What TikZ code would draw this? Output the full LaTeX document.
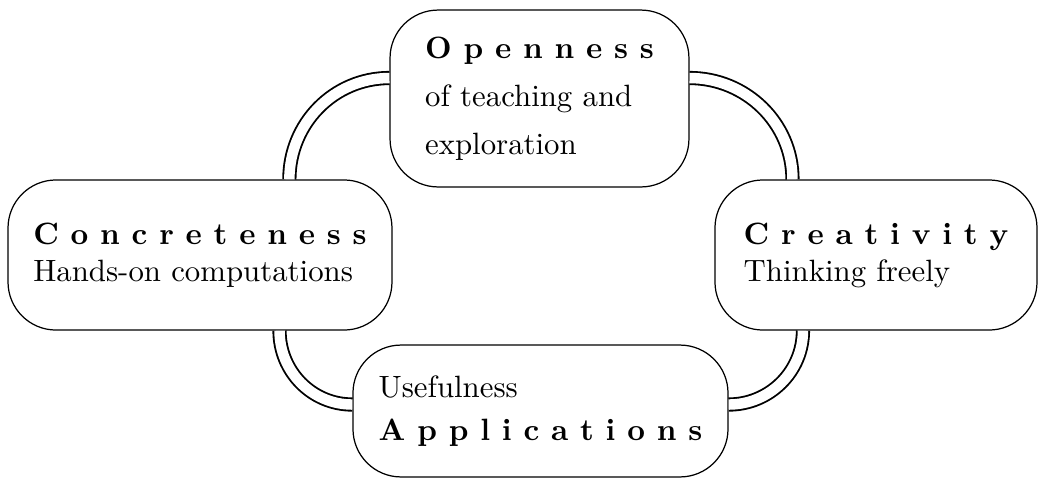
\documentclass[tikz,border=0pt]{standalone}
\usepackage{tikz}

\begin{document}
\begin{tikzpicture}[x=0.3245pt,y=-0.3245pt,
aspect/.style={
	% The shape:
	rectangle,rounded corners=15.6pt,
	% The border:
	draw=black,line width=0.4pt,
	% The text:
	align=left,inner sep=0pt},
bond/.style={
	% two lines, white between them
	double,double distance=3.4pt,line width=0.6pt}]

\useasboundingbox (0,0) rectangle (1038,478);

% The four boxes
\node (open) [aspect,minimum width=97pt,minimum height=57.4pt] at (539.5,98.5)
	{\textbf{O p e n n e s s}\\[3.6pt]
	 of teaching and\\[3.6pt]
	 exploration};
\node (concrete) [aspect,minimum width=124.6pt,minimum height=48.7pt] at (200,255)
	{\textbf{C o n c r e t e n e s s}\\
	 Hands-on computations};
\node (create) [aspect,minimum width=104.5pt,minimum height=48.7pt] at (876,255)
	{\textbf{C r e a t i v i t y}\\
	 Thinking freely};
\node (apply) [aspect,minimum width=121.7pt,minimum height=42.8pt] at (540.5,411)
	{Usefulness\\[2pt]
	 \textbf{A p p l i c a t i o n s}};

% The links
\draw[bond] ([yshift=6.65pt]open.west) to[out=180,in=90] ([xshift=29pt]concrete.north);
\draw[bond] ([yshift=6.65pt]open.east) to[out=0,in=90] ([xshift=-27.1pt]create.north);
\draw[bond] ([xshift=25.8pt]concrete.south) to[out=-90,in=180] ([yshift=2.1pt]apply.west);
\draw[bond] ([xshift=-23.7pt]create.south) to[out=-90,in=0] ([yshift=2.1pt]apply.east);

\end{tikzpicture}
\end{document}
